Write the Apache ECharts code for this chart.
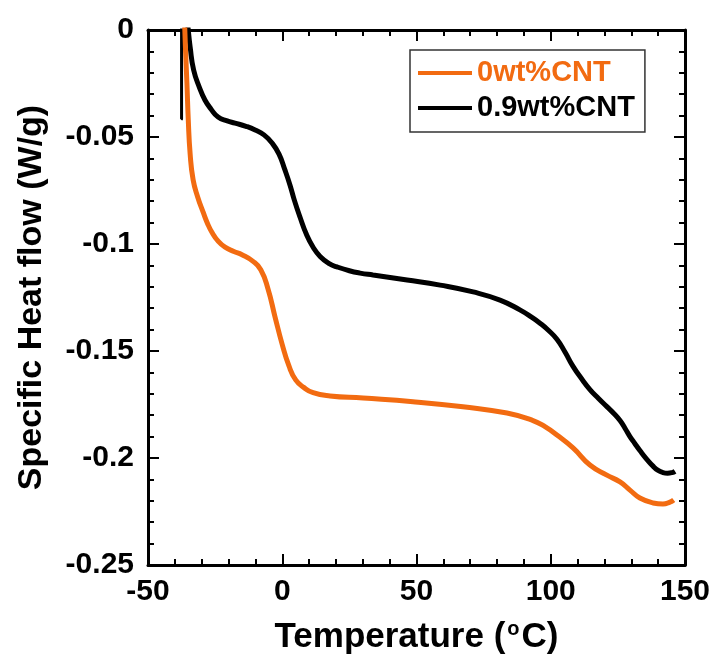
<!DOCTYPE html>
<html>
<head>
<meta charset="utf-8">
<script src="https://cdn.jsdelivr.net/npm/echarts@6/dist/echarts.min.js"></script>
<style>
html,body{margin:0;padding:0;background:#fff;}
#chart{width:717px;height:662px;}
</style>
</head>
<body>
<div id="chart"></div>
<script>
// ---- data ----
const seriesNames = ['0wt%CNT', '0.9wt%CNT'];
const xTickLabels = ['-50', '0', '50', '100', '150'];
const yTickLabels = ['-0.25', '-0.2', '-0.15', '-0.1', '-0.05', '0'];

const cnt0 = [
  [-36.4, 0.004], [-36.0, -0.01], [-35.5, -0.025], [-35.0, -0.042], [-34.3, -0.058],
  [-33.2, -0.070], [-31.5, -0.078], [-29.5, -0.085], [-27.8, -0.0905], [-26.2, -0.0945],
  [-23.8, -0.0988], [-21.3, -0.1015], [-18, -0.1035], [-15, -0.105], [-11, -0.108],
  [-8, -0.112], [-5.3, -0.121], [-2.7, -0.134], [0, -0.147], [2.5, -0.157],
  [5, -0.1635], [8, -0.167], [11.5, -0.1695], [17.8, -0.171], [30.1, -0.172],
  [48.7, -0.1737], [67.3, -0.1761], [83.7, -0.179], [93.4, -0.1825], [98, -0.1855],
  [102.3, -0.1893], [108.3, -0.1953], [114.6, -0.2033], [120.9, -0.208], [125.8, -0.2112],
  [129.5, -0.215], [133.2, -0.2187], [138.1, -0.221], [141.8, -0.2215], [144.4, -0.2206],
  [145.8, -0.2196]
];

const cnt09 = [
  [-35.3, 0.004], [-35.0, 0], [-34.3, -0.008], [-33.0, -0.0187], [-30.8, -0.027],
  [-28.8, -0.0327], [-26.5, -0.037], [-23.9, -0.0407], [-20.5, -0.0425], [-17.6, -0.0435],
  [-13.5, -0.045], [-10.1, -0.0467], [-6.8, -0.049], [-3.8, -0.0528], [-1.2, -0.058],
  [1.0, -0.0654], [2.9, -0.0725], [4.5, -0.0795], [6.6, -0.0874], [9.0, -0.0955],
  [11.5, -0.1015], [14.1, -0.1058], [17.5, -0.1092], [20.4, -0.1107], [25, -0.1125],
  [29, -0.1136], [33.8, -0.1145], [46.5, -0.1168], [58.8, -0.1192], [71.1, -0.1224],
  [81.1, -0.1262], [88.5, -0.1308], [93, -0.1343], [96, -0.137], [99, -0.1402],
  [102.3, -0.1445], [105.3, -0.1505], [108.3, -0.1572], [111.5, -0.163], [114.6, -0.168],
  [117.8, -0.1722], [120.9, -0.176], [123.5, -0.1792], [125.8, -0.1825], [127.7, -0.1862],
  [129.5, -0.190], [131.3, -0.1932], [133.2, -0.1965], [135.7, -0.2005], [138.1, -0.2038],
  [140, -0.2058], [141.8, -0.2068], [143.5, -0.2071], [145.2, -0.2068], [146.3, -0.2062]
];

const cnt09Spike = [
  [-37.5, 0.005], [-37.5, -0.0415], [-37.0, -0.0415]
];

// ---- chart ----
const ORANGE = '#F26B11';
const FONT = '"Liberation Sans", Arial, Helvetica, sans-serif';
const chart = echarts.init(document.getElementById('chart'), null, {renderer: 'canvas'});

function fmtX(v) {
  const i = Math.round((v + 50) / 50);
  return xTickLabels[i] !== undefined ? xTickLabels[i] : '';
}
function fmtY(v) {
  const i = Math.round((v + 0.25) / 0.05);
  return yTickLabels[i] !== undefined ? yTickLabels[i] : '';
}

const axisLineStyle = {show: true, onZero: false, lineStyle: {color: '#000', width: 3}};
const tickStyle = {show: true, inside: true, length: 11, lineStyle: {color: '#000', width: 2}};
const minorStyle = {show: true, splitNumber: 5, length: 6, lineStyle: {color: '#000', width: 2}};

const option = {
  backgroundColor: '#fff',
  animation: false,
  grid: {left: 148, top: 30, right: 32, bottom: 97, containLabel: false, outerBoundsMode: 'none'},
  legend: {
    data: [
      {name: seriesNames[0], textStyle: {color: ORANGE}},
      {name: seriesNames[1], textStyle: {color: '#000'}}
    ],
    orient: 'vertical',
    left: 410, top: 50,
    padding: [8, 10, 9, 8],
    itemWidth: 54, itemHeight: 20, itemGap: 5,
    borderColor: '#333', borderWidth: 1.5,
    icon: 'path://M0,0 L54,0 L54,4 L0,4 Z',
    textStyle: {fontFamily: FONT, fontWeight: 'bold', fontSize: 29, lineHeight: 30}
  },
  xAxis: [{
    type: 'value', min: -50, max: 150, interval: 50,
    position: 'bottom',
    axisLine: axisLineStyle, axisTick: tickStyle,
    minorTick: minorStyle,
    splitLine: {show: false},
    axisLabel: {formatter: fmtX, color: '#000', fontFamily: FONT, fontWeight: 'bold', fontSize: 30, margin: 12},
    name: '{a|Temperature (}{s|o}{a|C)}',
    nameLocation: 'middle', nameGap: 54,
    nameTextStyle: {
      rich: {
        a: {fontFamily: FONT, fontWeight: 'bold', fontSize: 35, color: '#000'},
        s: {fontFamily: FONT, fontWeight: 'bold', fontSize: 20, color: '#000', verticalAlign: 'top', padding: [0, 2, 16, 2]}
      }
    }
  }, {
    type: 'value', min: -50, max: 150, interval: 50,
    position: 'top',
    axisLine: axisLineStyle, axisTick: tickStyle,
    minorTick: minorStyle,
    splitLine: {show: false},
    axisLabel: {show: false}
  }],
  yAxis: [{
    type: 'value', min: -0.25, max: 0, interval: 0.05,
    position: 'left',
    axisLine: axisLineStyle, axisTick: tickStyle,
    minorTick: minorStyle,
    splitLine: {show: false},
    axisLabel: {formatter: fmtY, color: '#000', fontFamily: FONT, fontWeight: 'bold', fontSize: 30, margin: 14},
    name: 'Specific Heat flow (W/g)',
    nameLocation: 'middle', nameGap: 99,
    nameRotate: 90,
    nameTextStyle: {fontFamily: FONT, fontWeight: 'bold', fontSize: 34, color: '#000'}
  }, {
    type: 'value', min: -0.25, max: 0, interval: 0.05,
    position: 'right',
    axisLine: axisLineStyle, axisTick: tickStyle,
    minorTick: minorStyle,
    splitLine: {show: false},
    axisLabel: {show: false}
  }],
  series: [
    {
      name: seriesNames[1], type: 'line', data: cnt09, xAxisIndex: 0, yAxisIndex: 0,
      showSymbol: false, symbol: 'none', smooth: 0.5, clip: true,
      itemStyle: {color: '#000'},
      lineStyle: {color: '#000', width: 5}
    },
    {
      name: 'spike', type: 'line', data: cnt09Spike, xAxisIndex: 0, yAxisIndex: 0,
      showSymbol: false, symbol: 'none', clip: true,
      itemStyle: {color: '#000'},
      lineStyle: {color: '#000', width: 3}
    },
    {
      name: seriesNames[0], type: 'line', data: cnt0, xAxisIndex: 0, yAxisIndex: 0,
      showSymbol: false, symbol: 'none', smooth: 0.5, clip: true,
      itemStyle: {color: ORANGE},
      lineStyle: {color: ORANGE, width: 5}
    }
  ]
};
chart.setOption(option);
</script>
</body>
</html>
